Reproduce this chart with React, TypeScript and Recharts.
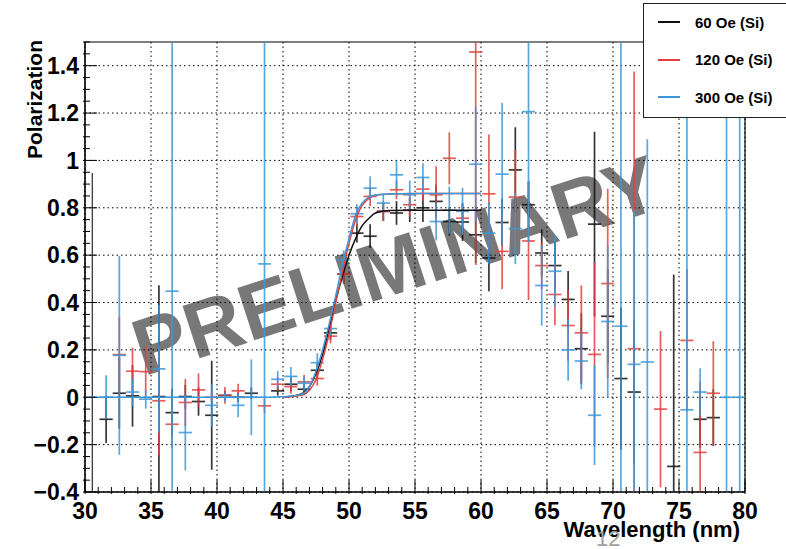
import React from 'react';
import {
  ComposedChart,
  Scatter,
  Line,
  XAxis,
  YAxis,
  CartesianGrid,
  ErrorBar,
  ReferenceArea,
  ReferenceLine,
} from 'recharts';

const FONT = '"Liberation Sans", Arial, Helvetica, sans-serif';
const BLACK = '#111111';
const RED = '#e5403f';
const BLUE = '#3c98d9';

const X_MIN = 30;
const X_MAX = 80;
const Y_MIN = -0.4;
const Y_MAX = 1.5;

// bin centres (nm), bin half width for the horizontal bars
const wavelength = [
  31.6, 32.6, 33.6, 34.6, 35.6, 36.6, 37.6, 38.6, 39.6, 40.6, 41.6, 42.6, 43.6, 44.6, 45.6, 46.6,
  47.6, 48.6, 49.6, 50.6, 51.6, 52.6, 53.6, 54.6, 55.6, 56.6, 57.6, 58.6, 59.6, 60.6, 61.6, 62.6,
  63.6, 64.6, 65.6, 66.6, 67.6, 68.6, 69.6, 70.6, 71.6, 72.6, 73.6, 74.6, 75.6, 76.6, 77.6, 78.6,
  79.6,
];
const binHalfWidth = 0.5;

// 60 Oe (Si)
const pol60 = [
  -0.093, 0.017, 0.006, null, 0.003, -0.065, 0.003, -0.018, -0.076, 0.008, 0.0, 0.017, null, 0.027,
  0.055, 0.034, 0.114, 0.272, 0.52, 0.693, 0.68, 0.785, 0.778, 0.79, 0.8, 0.827, 0.742, 0.74, 0.686,
  0.588, 0.738, 0.96, 0.813, 0.609, 0.556, 0.413, 0.205, 0.731, 0.342, 0.079, 0.022, null, null,
  -0.292, null, -0.093, -0.086, null, null,
];
const err60 = [
  0.1, 0.15, 0.13, null, 0.47, 0.1, 0.05, 0.06, 0.23, 0.02, 0.02, 0.025, null, 0.02, 0.03, 0.025,
  0.03, 0.03, 0.04, 0.04, 0.05, 0.04, 0.05, 0.05, 0.06, 0.07, 0.06, 0.08, 0.12, 0.14, 0.1, 0.18, 0.1,
  0.1, 0.1, 0.12, 0.15, 0.39, 0.2, 0.3, 0.3, null, null, 0.81, null, 0.12, 0.12, null, null,
];

// 120 Oe (Si)
const pol120 = [
  null, 0.18, 0.11, 0.108, -0.015, -0.114, -0.022, 0.031, 0.0, 0.008, 0.027, null, -0.036, 0.055,
  0.045, 0.065, 0.079, 0.258, 0.52, 0.763, 0.848, 0.785, 0.876, 0.813, 0.879, 0.855, 1.009, 0.756,
  1.458, 0.859, 0.616, 0.845, 0.66, 0.556, 0.434, 0.303, 0.272, 0.181, 0.48, null, 0.205, null,
  -0.05, null, 0.24, -0.233, 0.017, null, null,
];
const err120 = [
  null, 0.16, 0.1, 0.11, 0.23, 0.1, 0.1, 0.07, 0.02, 0.035, 0.03, null, 0.03, 0.03, 0.03, 0.03, 0.03,
  0.03, 0.04, 0.04, 0.04, 0.04, 0.04, 0.05, 0.05, 0.12, 0.11, 0.06, 0.9, 0.25, 0.16, 0.2, 0.25, 0.1,
  0.13, 0.15, 0.2, 0.39, 0.4, null, 1.17, null, 0.33, null, 0.3, 0.3, 0.22, null, null,
];

// 300 Oe (Si)
const pol300 = [
  0.0, 0.177, 0.022, -0.008, 0.12, 0.448, -0.149, null, -0.034, 0.0, -0.034, 0.0, 0.563, 0.076,
  0.088, 0.059, 0.146, 0.29, 0.58, 0.775, 0.883, 0.82, 0.939, 0.855, 0.928, 0.742, 0.79, 0.785,
  0.984, 0.693, 0.942, 0.712, 1.206, 0.472, 0.532, 0.2, 0.153, -0.076, 0.32, 0.3, 0.139, 0.149,
  null, null, -0.053, 0.022, null, 0.0, 0.0,
];
const err300 = [
  0.093, 0.42, 0.06, 0.04, 0.27, 2, 0.16, null, 0.09, 0.02, 0.05, 0.16, 2, 0.035, 0.04, 0.03, 0.04,
  0.03, 0.04, 0.04, 0.05, 0.04, 0.06, 0.06, 0.06, 0.08, 0.1, 0.1, 0.24, 0.13, 0.3, 0.15, 0.55, 0.17,
  0.15, 0.13, 0.12, 0.21, 0.32, 2, 0.65, 0.94, null, null, 1.3, 0.1, null, 2, 2,
];

// fitted curves
const fitX60 = [45, 45.5, 46, 46.5, 47, 47.5, 48, 48.5, 49, 49.5, 50, 50.5, 51, 51.5, 52, 53, 55, 60];
const fitY60 = [0, 0.003, 0.008, 0.018, 0.045, 0.1, 0.18, 0.29, 0.41, 0.51, 0.6, 0.67, 0.725, 0.755, 0.778, 0.789, 0.79, 0.79];
const fitX120 = [45, 45.5, 46, 46.5, 47, 47.5, 48, 48.5, 49, 49.5, 50, 50.5, 51, 51.5, 52, 53, 55, 60];
const fitY120 = [0, 0.002, 0.005, 0.01, 0.03, 0.075, 0.16, 0.27, 0.4, 0.53, 0.65, 0.75, 0.81, 0.84, 0.853, 0.858, 0.86, 0.86];
const fitX300 = [30, 44, 45, 45.5, 46, 46.5, 47, 47.5, 48, 48.5, 49, 49.5, 50, 50.5, 51, 51.5, 52, 53, 55, 60];
const fitY300 = [0, 0, 0.002, 0.004, 0.008, 0.015, 0.045, 0.11, 0.2, 0.31, 0.43, 0.56, 0.67, 0.77, 0.82, 0.845, 0.854, 0.858, 0.86, 0.86];

const xMajor = [30, 35, 40, 45, 50, 55, 60, 65, 70, 75, 80];
const xMinor = [
  30, 31, 32, 33, 34, 35, 36, 37, 38, 39, 40, 41, 42, 43, 44, 45, 46, 47, 48, 49, 50, 51, 52, 53, 54,
  55, 56, 57, 58, 59, 60, 61, 62, 63, 64, 65, 66, 67, 68, 69, 70, 71, 72, 73, 74, 75, 76, 77, 78, 79, 80,
];
const yMajor = [-0.4, -0.2, 0, 0.2, 0.4, 0.6, 0.8, 1, 1.2, 1.4];
const yMajorLabels = ['\u22120.4', '\u22120.2', '0', '0.2', '0.4', '0.6', '0.8', '1', '1.2', '1.4'];
const yMinor = [
  -0.4, -0.35, -0.3, -0.25, -0.2, -0.15, -0.1, -0.05, 0, 0.05, 0.1, 0.15, 0.2, 0.25, 0.3, 0.35, 0.4,
  0.45, 0.5, 0.55, 0.6, 0.65, 0.7, 0.75, 0.8, 0.85, 0.9, 0.95, 1, 1.05, 1.1, 1.15, 1.2, 1.25, 1.3,
  1.35, 1.4, 1.45, 1.5,
];

const legendItems = [
  { label: '60 Oe (Si)', color: BLACK },
  { label: '120 Oe (Si)', color: RED },
  { label: '300 Oe (Si)', color: BLUE },
];

// error bars are cut at the frame, like the original plot does
function toPoints(values: (number | null)[], errors: (number | null)[]) {
  const out: { x: number; y: number; err: number[]; xerr: number[] }[] = [];
  values.forEach((v, i) => {
    if (v === null) return;
    const e = errors[i] ?? 0;
    const x = wavelength[i];
    out.push({
      x,
      y: v,
      err: [Math.min(e, v - Y_MIN), Math.min(e, Y_MAX - v)],
      xerr: [Math.min(binHalfWidth, x - X_MIN), Math.min(binHalfWidth, X_MAX - x)],
    });
  });
  return out;
}

function toCurve(xs: number[], ys: number[]) {
  return xs.map((x, i) => ({ x, y: ys[i] }));
}

const data60 = toPoints(pol60, err60);
const data120 = toPoints(pol120, err120);
const data300 = toPoints(pol300, err300);

const NoMarker = () => <g />;

function XTick(props: any) {
  const { x, y, payload } = props;
  const idx = xMajor.indexOf(payload.value);
  return (
    <g>
      <line x1={x} x2={x} y1={y} y2={y - (idx >= 0 ? 14 : 7)} stroke="#000" strokeWidth={1} />
      {idx >= 0 && (
        <text x={x} y={y + 25} textAnchor="middle" fontFamily={FONT} fontWeight="bold" fontSize={23} fill="#000">
          {xMajor[idx]}
        </text>
      )}
    </g>
  );
}

function YTick(props: any) {
  const { x, y, payload } = props;
  const idx = yMajor.findIndex((m) => Math.abs(m - payload.value) < 1e-6);
  return (
    <g>
      <line x1={x} x2={x + (idx >= 0 ? 14 : 7)} y1={y} y2={y} stroke="#000" strokeWidth={1} />
      {idx >= 0 && (
        <text x={x - 4} y={y} dy="0.36em" textAnchor="end" fontFamily={FONT} fontWeight="bold" fontSize={23} fill="#000">
          {yMajorLabels[idx]}
        </text>
      )}
    </g>
  );
}

function series(data: any[], color: string, name: string) {
  return (
    <Scatter key={name} name={name} data={data} dataKey="y" shape={NoMarker} isAnimationActive={false}>
      <ErrorBar dataKey="err" direction="y" width={0} stroke={color} strokeWidth={1.7} strokeOpacity={0.85} />
      <ErrorBar dataKey="xerr" direction="x" width={0} stroke={color} strokeWidth={1.7} strokeOpacity={0.85} />
    </Scatter>
  );
}

export default function App() {
  return (
    <div style={{ position: 'absolute', left: 0, top: 0, width: 786, height: 549, background: '#fff', overflow: 'hidden' }}>
      <div
        style={{
          position: 'absolute',
          left: 396,
          top: 266,
          transform: 'translate(-50%, -50%) rotate(-18deg)',
          fontFamily: FONT,
          fontWeight: 'bold',
          fontSize: 80,
          lineHeight: 1,
          color: '#787878',
          whiteSpace: 'nowrap',
        }}
      >
        PRELIMINARY
      </div>
      <ComposedChart width={786} height={549} margin={{ top: 42, right: 41, bottom: 0, left: 0 }}>
        <CartesianGrid
          stroke="#000"
          strokeDasharray="1.5 3"
          horizontalValues={yMajor}
          verticalValues={xMajor}
        />
        <XAxis
          type="number"
          dataKey="x"
          domain={[X_MIN, X_MAX]}
          ticks={xMinor}
          interval={0}
          allowDataOverflow
          height={57}
          tickSize={0}
          tickLine={false}
          axisLine={{ stroke: '#000' }}
          tick={<XTick />}
          label={{
            content: (p: any) => {
              const vb = p.viewBox;
              return (
                <text x={vb.x + vb.width - 5} y={vb.y + 45} textAnchor="end" fontFamily={FONT} fontWeight="bold" fontSize={22} fill="#000">
                  Wavelength (nm)
                </text>
              );
            },
          }}
        />
        <YAxis
          type="number"
          domain={[Y_MIN, Y_MAX]}
          ticks={yMinor}
          interval={0}
          allowDataOverflow
          width={85}
          tickSize={0}
          tickLine={false}
          axisLine={{ stroke: '#000' }}
          tick={<YTick />}
          label={{
            content: () => (
              <text x={42} y={40} transform="rotate(-90 42 40)" textAnchor="end" fontFamily={FONT} fontWeight="bold" fontSize={21} fill="#000">
                Polarization
              </text>
            ),
          }}
        />
        <ReferenceLine
          segment={[
            { x: 30.55, y: -0.4 },
            { x: 30.55, y: 0.947 },
          ]}
          stroke="#000"
          strokeWidth={1}
        />
        {series(data60, BLACK, '60 Oe (Si)')}
        {series(data120, RED, '120 Oe (Si)')}
        {series(data300, BLUE, '300 Oe (Si)')}
        <Line data={toCurve(fitX60, fitY60)} dataKey="y" type="monotone" dot={false} stroke={BLACK} strokeWidth={1.5} isAnimationActive={false} />
        <Line data={toCurve(fitX120, fitY120)} dataKey="y" type="monotone" dot={false} stroke={RED} strokeWidth={1.5} isAnimationActive={false} />
        <Line data={toCurve(fitX300, fitY300)} dataKey="y" type="monotone" dot={false} stroke={BLUE} strokeWidth={1.5} isAnimationActive={false} />
        <ReferenceArea x1={X_MIN} x2={X_MAX} y1={Y_MIN} y2={Y_MAX} fill="none" stroke="#000" strokeWidth={1.2} />
      </ComposedChart>
      <div
        style={{
          position: 'absolute',
          left: 643,
          top: 3,
          width: 160,
          height: 113,
          background: '#fff',
          border: '1px solid #222',
          fontFamily: FONT,
          fontWeight: 'bold',
          fontSize: 15,
        }}
      >
        {legendItems.map((item, i) => (
          <div key={item.label} style={{ position: 'absolute', left: 14, top: 8 + i * 37.5, height: 20, display: 'flex', alignItems: 'center' }}>
            <div style={{ width: 22, height: 2, background: item.color }} />
            <span style={{ marginLeft: 15, color: '#000' }}>{item.label}</span>
          </div>
        ))}
      </div>
      <div
        style={{
          position: 'absolute',
          left: 596,
          top: 526,
          fontFamily: FONT,
          fontSize: 22,
          color: '#a0a0a0',
        }}
      >
        12
      </div>
    </div>
  );
}
